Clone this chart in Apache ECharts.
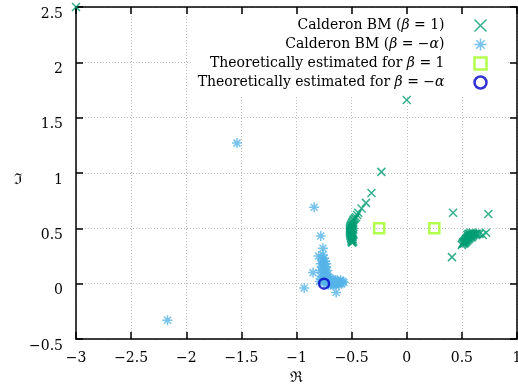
<!DOCTYPE html>
<html lang="en">
<head>
    <meta charset="UTF-8">
    <title>Calderon BM eigenvalues</title>
    <script src="https://cdn.jsdelivr.net/npm/echarts@6/dist/echarts.min.js"></script>
</head>
<body style="margin:0">
<div id="main" style="width: 518px; height: 385px;"></div>
<script>
    // series names
    var names = ['Calderon BM (β = 1)', 'Calderon BM (β = −α)',
        'Theoretically estimated for β = 1', 'Theoretically estimated for β = −α'];

    // Calderon BM, beta = 1  [re, im]
    var bmOne = [
        [-3.0, 2.5], [0.0, 1.66], [-0.23, 1.01], [-0.32, 0.82], [-0.37, 0.73], [-0.41, 0.68],
        [-0.44, 0.64], [-0.45, 0.62], [-0.46, 0.60], [-0.47, 0.59], [-0.48, 0.58], [-0.485, 0.57],
        [-0.49, 0.56], [-0.495, 0.55], [-0.50, 0.54], [-0.505, 0.53], [-0.51, 0.52], [-0.51, 0.51],
        [-0.515, 0.50], [-0.515, 0.49], [-0.515, 0.48], [-0.515, 0.47], [-0.515, 0.46], [-0.51, 0.45],
        [-0.51, 0.44], [-0.51, 0.43], [-0.505, 0.42], [-0.505, 0.41], [-0.50, 0.40], [-0.50, 0.39],
        [-0.50, 0.38], [-0.495, 0.37], [-0.49, 0.52], [-0.495, 0.50], [-0.50, 0.48], [-0.50, 0.46],
        [-0.495, 0.44], [-0.49, 0.42], [-0.49, 0.40], [-0.485, 0.38], [-0.48, 0.53], [-0.485, 0.49],
        [-0.485, 0.45],
        [0.42, 0.64], [0.74, 0.63], [0.72, 0.46], [0.41, 0.24], [0.69, 0.44],
        [0.50, 0.35], [0.505, 0.36], [0.51, 0.37], [0.515, 0.375], [0.52, 0.38], [0.525, 0.385],
        [0.53, 0.39], [0.535, 0.40], [0.54, 0.405], [0.545, 0.41], [0.55, 0.415], [0.555, 0.42],
        [0.56, 0.425], [0.57, 0.43], [0.58, 0.435], [0.59, 0.44], [0.60, 0.445], [0.61, 0.445],
        [0.62, 0.45], [0.63, 0.45], [0.64, 0.45], [0.66, 0.45], [0.52, 0.36], [0.53, 0.37],
        [0.54, 0.38], [0.55, 0.39], [0.56, 0.40], [0.57, 0.41], [0.58, 0.42], [0.59, 0.42],
        [0.60, 0.43], [0.55, 0.44], [0.56, 0.45], [0.57, 0.45], [0.58, 0.46], [0.60, 0.46]
    ];

    // Calderon BM, beta = -alpha
    var bmAlpha = [
        [-2.17, -0.33], [-1.54, 1.27], [-0.84, 0.69], [-0.78, 0.43], [-0.76, 0.32], [-0.80, 0.25],
        [-0.75, 0.23], [-0.85, 0.10], [-0.93, -0.04], [-0.64, -0.08],
        [-0.76, 0.20], [-0.755, 0.18], [-0.75, 0.16], [-0.75, 0.14], [-0.745, 0.12], [-0.74, 0.10],
        [-0.74, 0.08], [-0.735, 0.06], [-0.73, 0.05], [-0.72, 0.04], [-0.71, 0.035], [-0.70, 0.03],
        [-0.69, 0.025], [-0.68, 0.02], [-0.67, 0.02], [-0.66, 0.015], [-0.65, 0.01], [-0.64, 0.01],
        [-0.63, 0.005], [-0.62, 0.0], [-0.61, 0.0], [-0.60, 0.01], [-0.58, 0.02], [-0.57, 0.01],
        [-0.77, 0.10], [-0.77, 0.06], [-0.76, 0.03], [-0.75, 0.01], [-0.73, 0.0], [-0.71, -0.01],
        [-0.69, -0.01], [-0.67, -0.01], [-0.65, -0.01], [-0.72, 0.08], [-0.72, 0.12], [-0.73, 0.15],
        [-0.78, 0.18], [-0.77, 0.15], [-0.78, 0.12], [-0.76, 0.26], [-0.77, 0.22], [-0.74, 0.20],
        [-0.73, 0.18], [-0.74, 0.04], [-0.72, 0.02], [-0.70, 0.01], [-0.68, 0.0], [-0.66, 0.0],
        [-0.64, 0.0], [-0.62, 0.02], [-0.60, 0.03], [-0.59, 0.0], [-0.71, 0.06], [-0.69, 0.04],
        [-0.67, 0.04], [-0.65, 0.03], [-0.63, 0.03], [-0.79, 0.02], [-0.78, 0.04]
    ];

    // theoretical estimates
    var estOne = [[-0.25, 0.5], [0.25, 0.5]];
    var estAlpha = [[-0.75, 0.0]];

    var xTicks = { min: -3, max: 1, step: 0.5 };
    var yTicks = { min: -0.5, max: 2.5, step: 0.5 };

    var serif = 'DejaVu Serif';
    var gridLine = { show: true, lineStyle: { color: '#bbbbbb', type: [1, 2], width: 1 } };
    var fmt = function (v) { return String(v).replace('-', '−'); };

    var legendText = {};
    legendText[names[0]] = '{t|Calderon BM (}{g|β}{t| = 1)}{sp|}';
    legendText[names[1]] = '{t|Calderon BM (}{g|β}{t| = −}{g|α}{t|)}{sp|}';
    legendText[names[2]] = '{t|Theoretically estimated for }{g|β}{t| = 1}{sp|}';
    legendText[names[3]] = '{t|Theoretically estimated for }{g|β}{t| = −}{g|α}{sp|}';

    var crossPath = 'path://M0,0L10,10M10,0L0,10';
    var starPath = 'path://M5,0L5,10M0,5L10,5M1.5,1.5L8.5,8.5M8.5,1.5L1.5,8.5';

    function axisX(pos) {
        return {
            type: 'value', position: pos, min: xTicks.min, max: xTicks.max, interval: xTicks.step,
            axisLine: { show: true, onZero: false, lineStyle: { color: '#000', width: 1.5 } },
            axisTick: { show: true, inside: true, length: 7, lineStyle: { color: '#000', width: 1.5 } },
            axisLabel: { show: pos === 'bottom', margin: 12, formatter: fmt, color: '#000', fontFamily: serif, fontSize: 14 },
            splitLine: pos === 'bottom' ? gridLine : { show: false }
        };
    }
    function axisY(pos) {
        return {
            type: 'value', position: pos, min: yTicks.min, max: yTicks.max, interval: yTicks.step,
            axisLine: { show: true, onZero: false, lineStyle: { color: '#000', width: 1.5 } },
            axisTick: { show: true, inside: true, length: 7, lineStyle: { color: '#000', width: 1.5 } },
            axisLabel: { show: pos === 'left', margin: 13, formatter: fmt, color: '#000', fontFamily: serif, fontSize: 14, verticalAlign: 'top' },
            splitLine: pos === 'left' ? gridLine : { show: false }
        };
    }

    var xa = [axisX('bottom'), axisX('top')];
    xa[0].name = 'ℜ';
    xa[0].nameLocation = 'middle';
    xa[0].nameGap = 32;
    xa[0].nameTextStyle = { fontFamily: 'DejaVu Serif', fontSize: 15, color: '#000' };
    var ya = [axisY('left'), axisY('right')];
    ya[0].name = 'ℑ';
    ya[0].nameLocation = 'middle';
    ya[0].nameRotate = 0;
    ya[0].nameGap = 54;
    ya[0].nameTextStyle = { fontFamily: 'DejaVu Serif', fontSize: 15, color: '#000', verticalAlign: 'top' };

    var legendItems = [
        { name: names[0], itemStyle: { borderWidth: 1.5 } },
        { name: names[1], itemStyle: { borderWidth: 1.5 } },
        { name: names[2], itemStyle: { borderWidth: 2.5 } },
        { name: names[3], itemStyle: { borderWidth: 2.5 } }
    ];

    var myChart = echarts.init(document.getElementById('main'));
    myChart.setOption({
        backgroundColor: '#ffffff',
        animation: false,
        grid: { left: 76, top: 7, width: 441, height: 332, outerBoundsMode: 'none', containLabel: false },
        xAxis: xa,
        yAxis: ya,
        legend: {
            orient: 'vertical',
            align: 'right',
            right: 10,
            top: 15,
            padding: [2, 19, 4, 7],
            backgroundColor: '#ffffff',
            itemWidth: 12,
            itemHeight: 12,
            itemGap: 2,
            data: legendItems,
            formatter: function (n) { return legendText[n]; },
            textStyle: {
                color: '#000',
                lineHeight: 14,
                rich: {
                    t: { fontFamily: serif, fontSize: 14, color: '#000', lineHeight: 14 },
                    g: { fontFamily: serif, fontSize: 14, fontStyle: 'italic', color: '#000', lineHeight: 14 },
                    sp: { width: 25, lineHeight: 14 }
                }
            }
        },
        series: [{
            name: names[0],
            type: 'scatter',
            symbol: crossPath,
            symbolSize: 8,
            itemStyle: { color: 'none', borderColor: '#009e73', borderWidth: 1.5 },
            data: bmOne
        }, {
            name: names[1],
            type: 'scatter',
            symbol: starPath,
            symbolSize: 10,
            itemStyle: { color: 'none', borderColor: '#56b4e9', borderWidth: 1.5 },
            data: bmAlpha
        }, {
            name: names[2],
            type: 'scatter',
            symbol: 'rect',
            symbolSize: 10,
            itemStyle: { color: 'none', borderColor: '#a0ff20', borderWidth: 2.5 },
            data: estOne
        }, {
            name: names[3],
            type: 'scatter',
            symbol: 'circle',
            symbolSize: 10,
            itemStyle: { color: 'none', borderColor: '#0000c8', borderWidth: 2.5 },
            data: estAlpha
        }]
    });
</script>
</body>
</html>
